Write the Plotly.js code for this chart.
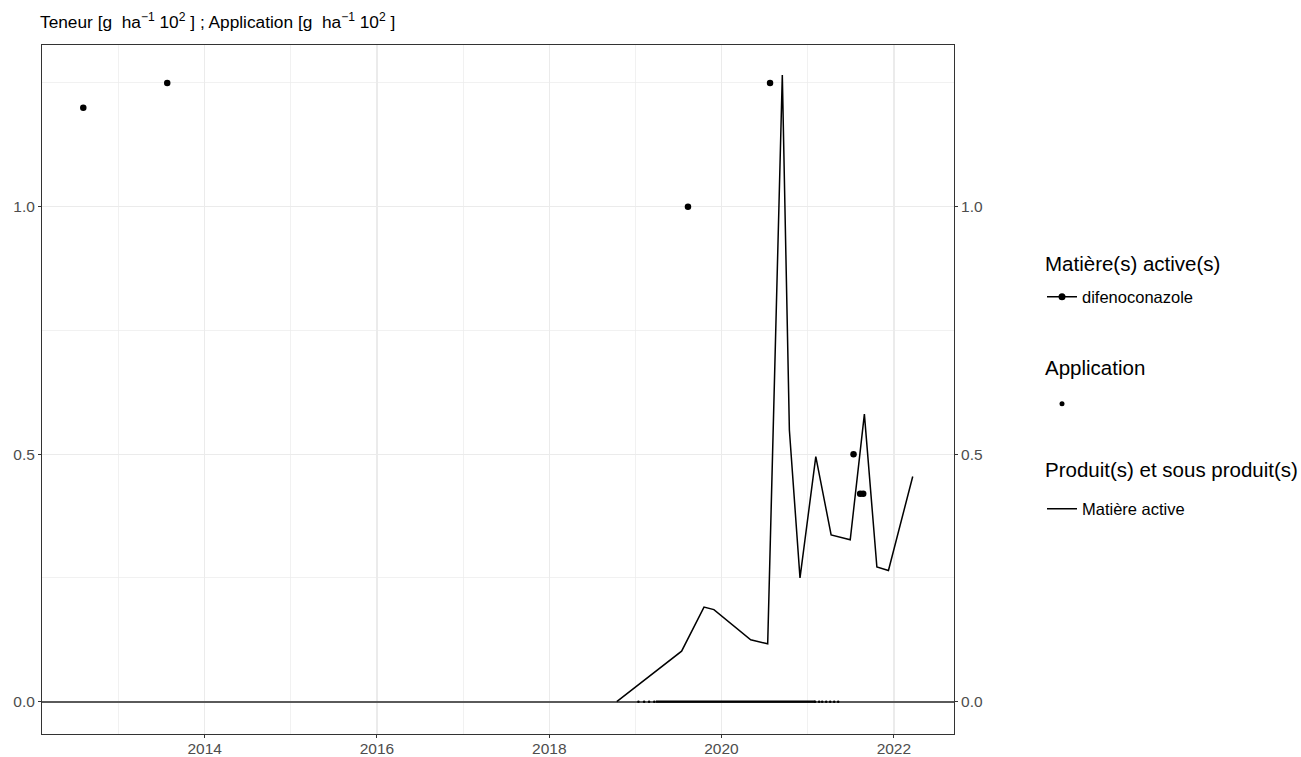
<!DOCTYPE html>
<html>
<head>
<meta charset="utf-8">
<script src="https://cdn.plot.ly/plotly-3.0.1.min.js"></script>
<style>html,body{margin:0;padding:0;background:#fff;}#chart{width:1301px;height:757px;}</style>
</head>
<body>
<div id="chart"></div>
<script>
// Main line: "Matière active"
const lineDates = ["2018-10-14","2019-07-16","2019-10-19","2019-11-30","2020-05-04","2020-07-15","2020-09-15","2020-10-15","2020-11-29","2021-02-04","2021-04-10","2021-06-30","2021-08-29","2021-10-21","2021-12-09","2022-03-22"];
const lineValues = [0, 0.102, 0.191, 0.186, 0.125, 0.117, 1.266, 0.549, 0.250, 0.495, 0.337, 0.327, 0.581, 0.272, 0.265, 0.455];

// Points: difenoconazole
const pointDates = ["2012-08-04","2013-07-26","2019-08-12","2020-07-25","2021-07-14","2021-08-11","2021-08-24"];
const pointValues = [1.20, 1.25, 1.00, 1.25, 0.50, 0.42, 0.42];

// Application points (at zero)
const appDates = ["2019-01-14","2019-02-07","2019-02-28","2019-03-22","2021-02-01","2021-02-18","2021-03-03","2021-03-20","2021-04-06","2021-04-23","2021-05-10"];
const appValues = [0,0,0,0,0,0,0,0,0,0,0];

// Zero segment
const zeroSegDates = ["2019-03-29","2021-02-01"];
const zeroSegValues = [0, 0];

// Ticks
const xTickVals = ["2014-01-01","2016-01-01","2018-01-01","2020-01-01","2022-01-01"];
const xTickText = ["2014","2016","2018","2020","2022"];
const xMinorVals = ["2013-01-01","2015-01-01","2017-01-01","2019-01-01","2021-01-01"];
const yTickVals = [0, 0.5, 1.0];
const yTickText = ["0.0","0.5","1.0"];
const yMinorVals = [0.25, 0.75, 1.25];

// Legend titles
const legendTitles = ["Matière(s) active(s)", "Application", "Produit(s) et sous produit(s)"];

const FONT = "Liberation Sans, Arial, sans-serif";
const xRange = ["2012-02-11","2022-09-13"];
const yRange = [-0.0653, 1.3267];

const traces = [
  {x: zeroSegDates, y: zeroSegValues, type:'scatter', mode:'lines', line:{color:'#000', width:2.2}, showlegend:false, hoverinfo:'skip'},
  {x: lineDates, y: lineValues, type:'scatter', mode:'lines', line:{color:'#000', width:1.5}, showlegend:false},
  {x: appDates, y: appValues, type:'scatter', mode:'markers', marker:{color:'#000', size:2.5}, showlegend:false},
  {x: pointDates, y: pointValues, type:'scatter', mode:'markers', marker:{color:'#000', size:6.5}, showlegend:false},
  // legend entries
  {x:[null], y:[null], yaxis:'y2', type:'scatter', mode:'lines+markers', name:'difenoconazole', line:{color:'#000', width:1.5}, marker:{color:'#000', size:7}, legend:'legend'},
  {x:[null], y:[null], yaxis:'y2', type:'scatter', mode:'markers', name:' ', marker:{color:'#000', size:5}, legend:'legend2'},
  {x:[null], y:[null], yaxis:'y2', type:'scatter', mode:'lines', name:'Matière active', line:{color:'#000', width:1.5}, legend:'legend3'}
];

const axisCommon = {
  showline:true, linecolor:'#333333', linewidth:1, ticks:'outside', ticklen:3, tickcolor:'#333333', tickwidth:1,
  tickfont:{family:FONT, size:15.5, color:'#4d4d4d'}, automargin:false
};

const legendCommon = {
  xref:'container', yref:'container', xanchor:'left', yanchor:'middle',
  font:{family:FONT, size:16.5, color:'#000'}, bgcolor:'rgba(0,0,0,0)', borderwidth:0
};

const titleY = [263, 367, 469];
const annotations = legendTitles.map((t, i) => ({
  text: t, xref:'paper', yref:'paper', showarrow:false,
  x: (1043 - 42) / (1301 - 42 - 347), xanchor:'left',
  y: 1 - (titleY[i] - 45) / (757 - 45 - 23), yanchor:'middle',
  font:{family:FONT, size:20.5, color:'#000'}
}));

const layout = {
  width:1301, height:757,
  margin:{l:42, r:347, t:45, b:23, pad:0},
  paper_bgcolor:'#fff', plot_bgcolor:'#fff',
  font:{family:FONT},
  title:{
    text:'Teneur [g  ha<sup>−1</sup> 10<sup>2</sup> ] ; Application [g  ha<sup>−1</sup> 10<sup>2</sup> ]',
    font:{family:FONT, size:17.3, color:'#000'},
    xref:'container', yref:'container', x:40/1301, xanchor:'left', y:1-22/757, yanchor:'middle'
  },
  annotations: annotations,
  xaxis: Object.assign({}, axisCommon, {
    type:'date', range:xRange, tickmode:'array', tickvals:xTickVals, ticktext:xTickText,
    ticklabelstandoff:-3,
    showgrid:true, gridcolor:'#ebebeb', gridwidth:1.3, zeroline:false, mirror:true,
    minor:{tickmode:'array', tickvals:xMinorVals, showgrid:true, gridcolor:'#ebebeb', gridwidth:0.7, ticks:''}
  }),
  yaxis: Object.assign({}, axisCommon, {
    range:yRange, tickmode:'array', tickvals:yTickVals, ticktext:yTickText,
    showgrid:true, gridcolor:'#ebebeb', gridwidth:1.3, mirror:true,
    zeroline:true, zerolinecolor:'#5a5a5a', zerolinewidth:1.8,
    minor:{tickmode:'array', tickvals:yMinorVals, showgrid:true, gridcolor:'#ebebeb', gridwidth:0.7, ticks:''}
  }),
  yaxis2: Object.assign({}, axisCommon, {
    overlaying:'y', side:'right', range:yRange, tickmode:'array', tickvals:yTickVals, ticktext:yTickText,
    showgrid:false, zeroline:false, showline:true
  }),
  legend: Object.assign({}, legendCommon, { x:1042/1301, y:1-297/757 }),
  legend2: Object.assign({}, legendCommon, { x:1042/1301, y:1-404/757 }),
  legend3: Object.assign({}, legendCommon, { x:1042/1301, y:1-509/757 }),
  showlegend:true
};

Plotly.newPlot('chart', traces, layout, {displayModeBar:false, staticPlot:true});
</script>
</body>
</html>
